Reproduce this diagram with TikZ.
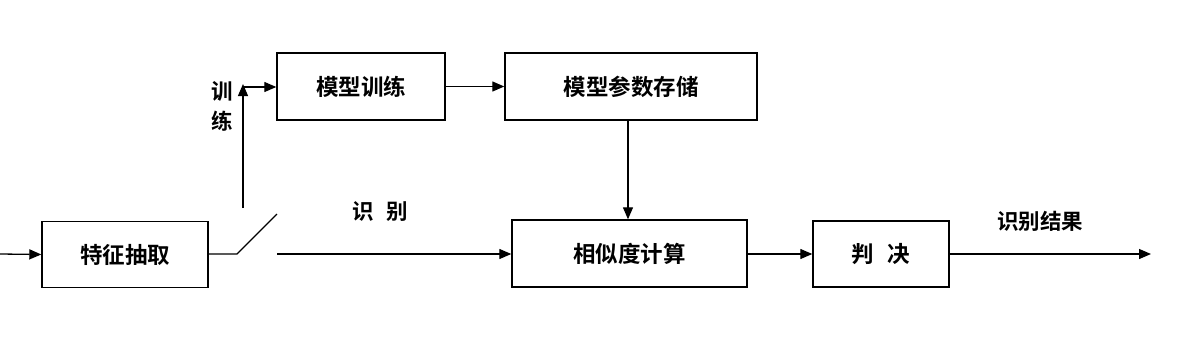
\documentclass[tikz,border=0pt]{standalone}
\usepackage{fontspec}
\setmainfont{Noto Sans CJK SC}[BoldFont={Noto Sans CJK SC Bold}]
\usetikzlibrary{arrows.meta}
\begin{document}
\begin{tikzpicture}[x=1pt,y=-1pt,
  box/.style={draw,line width=1.4pt,minimum height=66pt,inner sep=0pt,font=\fontsize{22.5}{24}\selectfont\bfseries},
  lbl/.style={font=\fontsize{21.5}{23}\selectfont\bfseries,inner sep=0pt},
  conn/.style={line width=1.3pt},
  arr/.style={conn,-{Triangle[length=12pt,width=10pt]}}]
\useasboundingbox (0,0) rectangle (1179,351);
\node[box,minimum width=166pt] (fe) at (125,254.5) {特征抽取};
\node[box,minimum width=168pt,minimum height=67pt] (mt) at (361,86.5) {模型训练};
\node[box,minimum width=252pt,minimum height=67pt] (ms) at (631,86.5) {模型参数存储};
\node[box,minimum width=235pt,minimum height=67pt] (sc) at (629.5,253.5) {相似度计算};
\node[box,minimum width=136pt] (jd) at (881,254) {判\hspace{0.6em}决};
\coordinate (in) at (0,254);
\coordinate (s0) at (237,254);
\coordinate (s1) at (277,214);
\coordinate (s2) at (277,254);
\coordinate (t0) at (243,208);
\coordinate (t1) at (243,84);
\coordinate (t2) at (243,87);
\coordinate (out) at (1151,254);
\draw[arr] (in) -- (fe.west);
\draw[conn] (fe.east |- s0) -- (s0) -- (s1);
\draw[arr] (t0) -- (t1);
\draw[arr] (t2) -- (mt.west |- t2);
\draw[arr] (mt.east) -- (ms.west);
\draw[arr] (ms.south -| 628,0) -- (sc.north -| 628,0);
\draw[arr] (s2) -- (sc.west |- s2);
\draw[arr] (sc.east |- 0,254) -- (jd.west |- 0,254);
\draw[arr] (jd.east |- 0,254) -- (out);
\node[lbl] (lt1) at (222,91) {训};
\node[lbl] (lt2) at (222,121) {练};
\node[lbl] (lr) at (380,212) {识\hspace{0.6em}别};
\node[lbl] (lres) at (1040,221) {识别结果};
\end{tikzpicture}
\end{document}
